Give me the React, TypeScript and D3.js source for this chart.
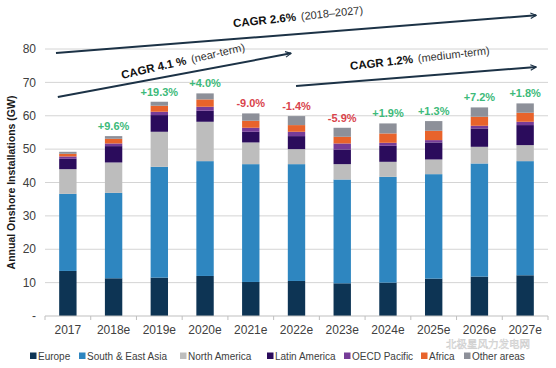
import React from "react";
import * as d3 from "d3";

const categories = ["2017", "2018e", "2019e", "2020e", "2021e", "2022e", "2023e", "2024e", "2025e", "2026e", "2027e"];
const europe = [13.5, 11.3, 11.5, 12.0, 10.2, 10.5, 9.8, 10.0, 11.2, 11.8, 12.2];
const southEastAsia = [23.1, 25.6, 33.2, 34.4, 35.3, 35.0, 31.1, 31.7, 31.3, 33.9, 34.2];
const northAmerica = [7.4, 9.1, 10.5, 11.8, 6.5, 4.5, 4.6, 4.5, 4.4, 5.0, 4.8];
const latinAmerica = [3.1, 4.9, 5.0, 3.3, 3.2, 3.9, 4.4, 4.8, 5.1, 5.5, 6.0];
const oecdPacific = [0.7, 0.8, 1.0, 1.2, 1.2, 1.3, 1.8, 0.9, 0.7, 0.8, 1.0];
const africa = [0.8, 1.4, 1.8, 2.2, 2.1, 2.0, 2.0, 2.8, 2.8, 2.7, 2.7];
const otherAreas = [0.6, 0.8, 1.2, 1.8, 2.2, 2.7, 2.7, 3.0, 2.9, 2.8, 2.8];
const growth = ["", "+9.6%", "+19.3%", "+4.0%", "-9.0%", "-1.4%", "-5.9%", "+1.9%", "+1.3%", "+7.2%", "+1.8%"];
const yTicks = [0, 10, 20, 30, 40, 50, 60, 70, 80];

const seriesNames = ["Europe", "South & East Asia", "North America", "Latin America", "OECD Pacific", "Africa", "Other areas"];
const seriesValues = [europe, southEastAsia, northAmerica, latinAmerica, oecdPacific, africa, otherAreas];
const colors = ["#0d3454", "#2e86c0", "#bdbdbd", "#2b0c5c", "#763c98", "#e8632b", "#8d9099"];

// CAGR arrows: [start index, start GW, end index, end GW]
const cagrLines = [
  [-0.26, 78.8, 10.24, 90.1],
  [-0.22, 65.6, 4.88, 78.7],
  [4.99, 68.9, 10.24, 74.6],
];
const cagrLabels = [
  { i: 3.62, v: 86.5, angle: -6, bold: "CAGR 2.6%", rest: "(2018\u20132027)" },
  { i: 1.19, v: 71.0, angle: -13, bold: "CAGR 4.1 %", rest: "(near-term)" },
  { i: 6.18, v: 73.7, angle: -6.5, bold: "CAGR 1.2%", rest: "(medium-term)" },
];

const W = 556;
const H = 368;
const margin = { top: 49, right: 8, bottom: 52, left: 45 };

export default function App() {
  const x = d3
    .scaleBand()
    .domain(categories)
    .range([margin.left, W - margin.right])
    .paddingInner(0.62)
    .paddingOuter(0.31);
  const step = x.step();
  const bw = x.bandwidth();
  const y = d3.scaleLinear().domain([0, 80]).range([H - margin.bottom, margin.top]);
  const cx = (i) => margin.left + step * (i + 0.5);

  const rows = categories.map((c, i) => {
    const r = { cat: c };
    seriesNames.forEach((s, k) => (r[s] = seriesValues[k][i]));
    return r;
  });
  const stacked = d3.stack().keys(seriesNames)(rows);
  const totals = categories.map((_, i) => d3.sum(seriesValues, (s) => s[i]));

  const font = "'Liberation Sans', Arial, sans-serif";
  const legendX = [30, 79, 180, 267, 344, 421, 464];

  return (
    <svg width={W} height={H} style={{ position: "absolute", left: 0, top: 0, background: "#fff" }} fontFamily={font}>
      <defs>
        <marker id="arr" viewBox="0 0 10 10" refX="9" refY="5" markerWidth="7" markerHeight="7" orient="auto" markerUnits="userSpaceOnUse">
          <path d="M1,1 L9,5 L1,9" fill="none" stroke="#1c3246" strokeWidth="1.6" />
        </marker>
      </defs>

      {yTicks.map((t) => (
        <g key={t}>
          {t > 0 && (
            <line x1={margin.left} x2={W - margin.right} y1={y(t)} y2={y(t)} stroke="#d4d4d4" strokeWidth={1} />
          )}
          <text x={36} y={y(t)} dy="0.35em" textAnchor="end" fontSize={12} fill="#404040">
            {t === 0 ? "-" : t}
          </text>
        </g>
      ))}

      <text
        transform={`translate(15,${(y(0) + y(80)) / 2}) rotate(-90)`}
        textAnchor="middle"
        fontSize={10.5}
        fontWeight="bold"
        fill="#1a1a1a"
      >
        Annual Onshore Installations (GW)
      </text>

      {stacked.map((layer, k) => (
        <g key={layer.key} fill={colors[k]}>
          {layer.map((d, i) => (
            <rect key={i} x={x(categories[i])} width={bw} y={y(d[1])} height={y(d[0]) - y(d[1])} />
          ))}
        </g>
      ))}

      <line x1={margin.left} x2={W - margin.right} y1={y(0)} y2={y(0)} stroke="#bfbfbf" strokeWidth={1} />
      {d3.range(categories.length + 1).map((i) => (
        <line key={i} x1={margin.left + step * i} x2={margin.left + step * i} y1={y(0)} y2={y(0) + 4} stroke="#bfbfbf" />
      ))}
      {categories.map((c) => (
        <text key={c} x={x(c) + bw / 2} y={y(0) + 18} textAnchor="middle" fontSize={12} fill="#404040">
          {c}
        </text>
      ))}

      {growth.map((g, i) =>
        g ? (
          <text
            key={i}
            x={x(categories[i]) + bw / 2}
            y={y(totals[i]) - 6}
            textAnchor="middle"
            fontSize={11}
            fontWeight="bold"
            fill={g.startsWith("+") ? "#3dba7a" : "#d9434b"}
          >
            {g}
          </text>
        ) : null
      )}

      {cagrLines.map((l, j) => (
        <line
          key={j}
          x1={cx(l[0])}
          y1={y(l[1])}
          x2={cx(l[2])}
          y2={y(l[3])}
          stroke="#1c3246"
          strokeWidth={2}
          markerEnd="url(#arr)"
        />
      ))}
      {cagrLabels.map((t, j) => (
        <text key={j} transform={`translate(${cx(t.i)},${y(t.v)}) rotate(${t.angle})`} fill="#111">
          <tspan fontWeight="bold" fontSize={11.5}>
            {t.bold}
          </tspan>
          <tspan fontSize={11} fill="#333" dx={5}>
            {t.rest}
          </tspan>
        </text>
      ))}

      <text
        x={446}
        y={347.5}
        fontSize={10.5}
        fontFamily="'Noto Sans CJK SC', sans-serif"
        fill="#ffffff"
        fillOpacity={0.5}
        stroke="#999"
        strokeOpacity={0.55}
        strokeWidth={0.5}
      >
        北极星风力发电网
      </text>

      {seriesNames.map((s, k) => (
        <g key={s} transform={`translate(${legendX[k]},356)`}>
          <rect x={0} y={-3.5} width={6.5} height={6.5} fill={colors[k]} />
          <text x={8} y={0} dy="0.35em" fontSize={10} fill="#404040">
            {s}
          </text>
        </g>
      ))}
    </svg>
  );
}
